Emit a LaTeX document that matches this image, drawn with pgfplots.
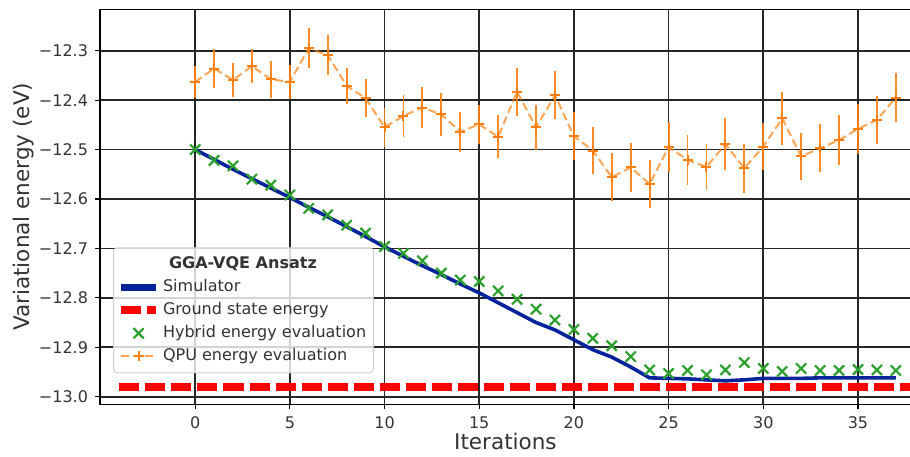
\documentclass[border=0pt]{standalone}
\usepackage{pgfplots}
\pgfplotsset{compat=1.18}
\usepackage{fontspec}
\setmainfont{DejaVu Sans}
\definecolor{simblue}{RGB}{5,35,155}
\definecolor{gsred}{RGB}{255,0,0}
\definecolor{hybgreen}{RGB}{44,160,44}
\definecolor{qpuorange}{RGB}{255,127,14}
\begin{document}
\begin{tikzpicture}
\path[use as bounding box] (-50pt,-26pt) rectangle (404.6pt,201.95pt);
\begin{axis}[
  scale only axis,
  width=405pt, height=197.3pt,
  xmin=-5.02, xmax=37.79,
  ymin=-13.0154, ymax=-12.2162,
  xtick={0,5,10,15,20,25,30,35},
  xticklabels={0,5,10,15,20,25,30,35},
  ytick={-13.0,-12.9,-12.8,-12.7,-12.6,-12.5,-12.4,-12.3},
  yticklabels={−13.0,−12.9,−12.8,−12.7,−12.6,−12.5,−12.4,−12.3},
  tick align=outside, tick pos=left,
  major tick length=2.5pt,
  tick style={black, line width=0.6pt},
  grid=major,
  major grid style={black!85, line width=0.85pt},
  axis line style={black, line width=0.6pt},
  ticklabel style={font=\fontsize{8}{9.6}\selectfont, text=black!80},
  xlabel={Iterations},
  ylabel={Variational energy (eV)},
  label style={font=\fontsize{10.75}{13}\selectfont, text=black!80},
  xlabel style={at={(axis description cs:0.5,-0.0938)}, anchor=center},
  ylabel style={at={(axis description cs:-0.094,0.5)}, anchor=center},
  legend cell align=left,
  legend style={at={(axis description cs:0.016,0.0785)}, anchor=south west,
    draw=black!20, rounded corners=2pt, fill=white, fill opacity=0.8, text opacity=1,
    font=\fontsize{8}{9.6}\selectfont, text=black!80,
    nodes={text height=6.2pt, text depth=1.9pt, inner sep=1.7pt},
    inner xsep=2pt, inner ysep=2.5pt},
]
\addlegendimage{empty legend}
\addlegendentry{\hspace*{3pt}\textbf{GGA-VQE Ansatz}}

\addplot[simblue, line width=1.8pt, no marks, legend image post style={line width=3.3pt}] table {
x y
0 -12.500
1 -12.520
2 -12.540
3 -12.559
4 -12.578
5 -12.597
6 -12.617
7 -12.636
8 -12.656
9 -12.676
10 -12.697
11 -12.716
12 -12.735
13 -12.753
14 -12.772
15 -12.790
16 -12.810
17 -12.830
18 -12.850
19 -12.865
20 -12.885
21 -12.905
22 -12.920
23 -12.940
24 -12.962
25 -12.963
26 -12.964
27 -12.966
28 -12.968
29 -12.966
30 -12.963
31 -12.963
32 -12.963
33 -12.962
34 -12.962
35 -12.962
36 -12.962
37 -12.962
};
\addlegendentry{Simulator}

\addplot[gsred, line width=4pt, dash pattern=on 10pt off 3pt, no marks] coordinates {(-4,-12.981) (40,-12.981)};
\addlegendentry{Ground state energy}

\addplot[hybgreen, only marks, mark=x, mark size=3.6pt, line width=1.1pt] table {
x y
0 -12.500
1 -12.522
2 -12.533
3 -12.560
4 -12.572
5 -12.592
6 -12.619
7 -12.632
8 -12.653
9 -12.669
10 -12.696
11 -12.710
12 -12.725
13 -12.750
14 -12.764
15 -12.767
16 -12.786
17 -12.803
18 -12.823
19 -12.845
20 -12.864
21 -12.882
22 -12.897
23 -12.919
24 -12.946
25 -12.953
26 -12.947
27 -12.956
28 -12.946
29 -12.931
30 -12.943
31 -12.949
32 -12.943
33 -12.947
34 -12.947
35 -12.945
36 -12.946
37 -12.947
};
\addlegendentry{Hybrid energy evaluation}

\addplot[qpuorange, draw opacity=0.7, line width=1pt, dash pattern=on 4pt off 2pt,
  mark=+, mark size=2.5pt, mark options={solid, draw opacity=1},
  error bars/.cd, y dir=both, y explicit,
  error bar style={solid, line width=0.95pt, qpuorange, draw opacity=0.9}, error mark=none]
  table[x=x, y=y, y error=e] {
x y e
0 -12.363 0.033
1 -12.336 0.039
2 -12.359 0.034
3 -12.331 0.035
4 -12.358 0.037
5 -12.363 0.035
6 -12.295 0.040
7 -12.309 0.040
8 -12.371 0.037
9 -12.396 0.039
10 -12.455 0.039
11 -12.432 0.042
12 -12.415 0.042
13 -12.429 0.044
14 -12.464 0.040
15 -12.449 0.040
16 -12.474 0.044
17 -12.383 0.049
18 -12.455 0.046
19 -12.390 0.048
20 -12.473 0.049
21 -12.502 0.048
22 -12.556 0.049
23 -12.536 0.050
24 -12.570 0.048
25 -12.495 0.050
26 -12.521 0.050
27 -12.535 0.047
28 -12.489 0.052
29 -12.538 0.049
30 -12.494 0.047
31 -12.437 0.053
32 -12.514 0.047
33 -12.497 0.049
34 -12.481 0.050
35 -12.458 0.050
36 -12.440 0.048
37 -12.395 0.050
};
\addlegendentry{QPU energy evaluation}
\end{axis}
\end{tikzpicture}
\end{document}
